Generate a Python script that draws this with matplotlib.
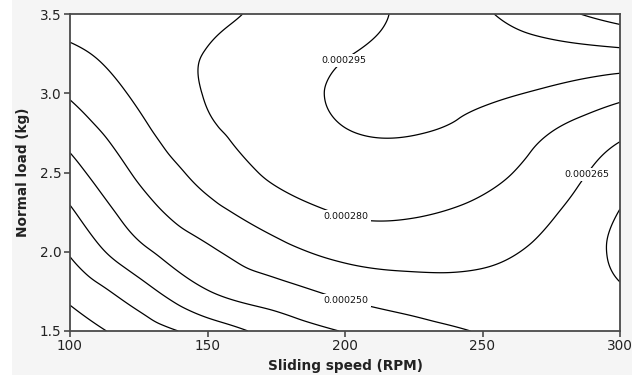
import numpy as np
import matplotlib
matplotlib.use("Agg")
import matplotlib.pyplot as plt
import matplotlib.tri as mtri
from matplotlib.patches import Rectangle

# Data (wear rate, in units of 1e-6)
speed = [100, 125, 150, 175, 200, 225, 250, 275, 300]
load = [1.5, 1.75, 2.0, 2.25, 2.5, 2.75, 3.0, 3.25, 3.5]
# rows = load, columns = speed
wear_e6 = [
    [182.0, 197.0, 211.0, 225.7, 235.8, 244.8, 251.0, 255.0, 253.0],
    [194.3, 213.7, 234.4, 244.4, 253.8, 258.7, 260.0, 256.0, 251.0],
    [206.5, 231.0, 247.6, 260.0, 269.1, 271.0, 268.5, 260.5, 247.0],
    [218.0, 242.9, 260.2, 273.0, 281.0, 281.3, 276.7, 266.6, 249.5],
    [229.4, 252.5, 270.3, 282.5, 287.6, 288.4, 284.0, 273.2, 257.3],
    [240.7, 260.7, 277.5, 286.3, 294.2, 295.4, 290.6, 279.8, 267.8],
    [251.8, 267.7, 280.8, 289.0, 297.0, 298.5, 297.1, 292.6, 284.4],
    [262.2, 271.8, 280.5, 287.2, 294.3, 298.5, 302.5, 305.0, 306.4],
    [272.0, 275.0, 277.5, 283.2, 290.1, 298.0, 308.0, 320.0, 332.0],
]
plain_levels_e6 = [190, 205, 220, 235, 310, 325]
labeled_levels_e6 = [250, 265, 280, 295]
label_pos = [(200.4, 1.696), (286.7, 2.503), (200.4, 2.219), (199.8, 3.197)]
xticks = [100, 150, 200, 250, 300]
yticks = [1.5, 2.0, 2.5, 3.0, 3.5]

S, L = np.meshgrid(np.array(speed, float), np.array(load, float))
Z = np.array(wear_e6, float)

# smooth refinement done by matplotlib's triangulation tools
xs = (S.ravel() - 100) / 100.0
ys = (L.ravel() - 1.5)
tri_n = mtri.Triangulation(xs, ys)
interp = mtri.CubicTriInterpolator(tri_n, Z.ravel(), kind='min_E')
refiner = mtri.UniformTriRefiner(tri_n)
tri_r, z_r = refiner.refine_field(Z.ravel(), triinterpolator=interp, subdiv=5)
tri_plot = mtri.Triangulation(tri_r.x * 100 + 100, tri_r.y + 1.5, tri_r.triangles)

fig = plt.figure(figsize=(6.38, 3.79), dpi=100, facecolor='white')
fig.patches.append(Rectangle((12 / 638, 4 / 379), 620 / 638, 375 / 379,
                             transform=fig.transFigure, facecolor='#f5f5f5',
                             edgecolor='none', zorder=-10))
ax = fig.add_axes([70 / 638, 1 - 331 / 379, 550 / 638, 317 / 379])
ax.set_facecolor('white')

ax.tricontour(tri_plot, z_r, levels=plain_levels_e6, colors='black', linewidths=0.9)
cs = ax.tricontour(tri_plot, z_r, levels=labeled_levels_e6, colors='black', linewidths=0.9)
labels = ax.clabel(cs, manual=label_pos, fmt=lambda v: '%.6f' % (v * 1e-6), fontsize=6.8,
                   inline=False)
for t in labels:
    t.set_rotation(0)
    t.set_color('#111111')
    t.set_bbox(dict(facecolor='white', edgecolor='none', pad=1.5))

ax.set_xlim(100, 300)
ax.set_ylim(1.5, 3.5)
ax.set_xticks(xticks)
ax.set_yticks(yticks)
ax.set_xticklabels([str(t) for t in xticks])
ax.set_yticklabels(['%.1f' % t for t in yticks])
for sp in ax.spines.values():
    sp.set_color('#4a4a4a')
    sp.set_linewidth(1.3)
ax.tick_params(direction='out', length=4, width=1.2, color='#4a4a4a',
               labelsize=9.8, labelcolor='#222222', pad=2)
ax.set_xlabel('Sliding speed (RPM)', fontsize=9.8, fontweight='bold', color='#222222', labelpad=4)
ax.set_ylabel('Normal load (kg)', fontsize=9.8, fontweight='bold', color='#222222', labelpad=7)

fig.savefig('out.png', dpi=100, facecolor=fig.get_facecolor())
